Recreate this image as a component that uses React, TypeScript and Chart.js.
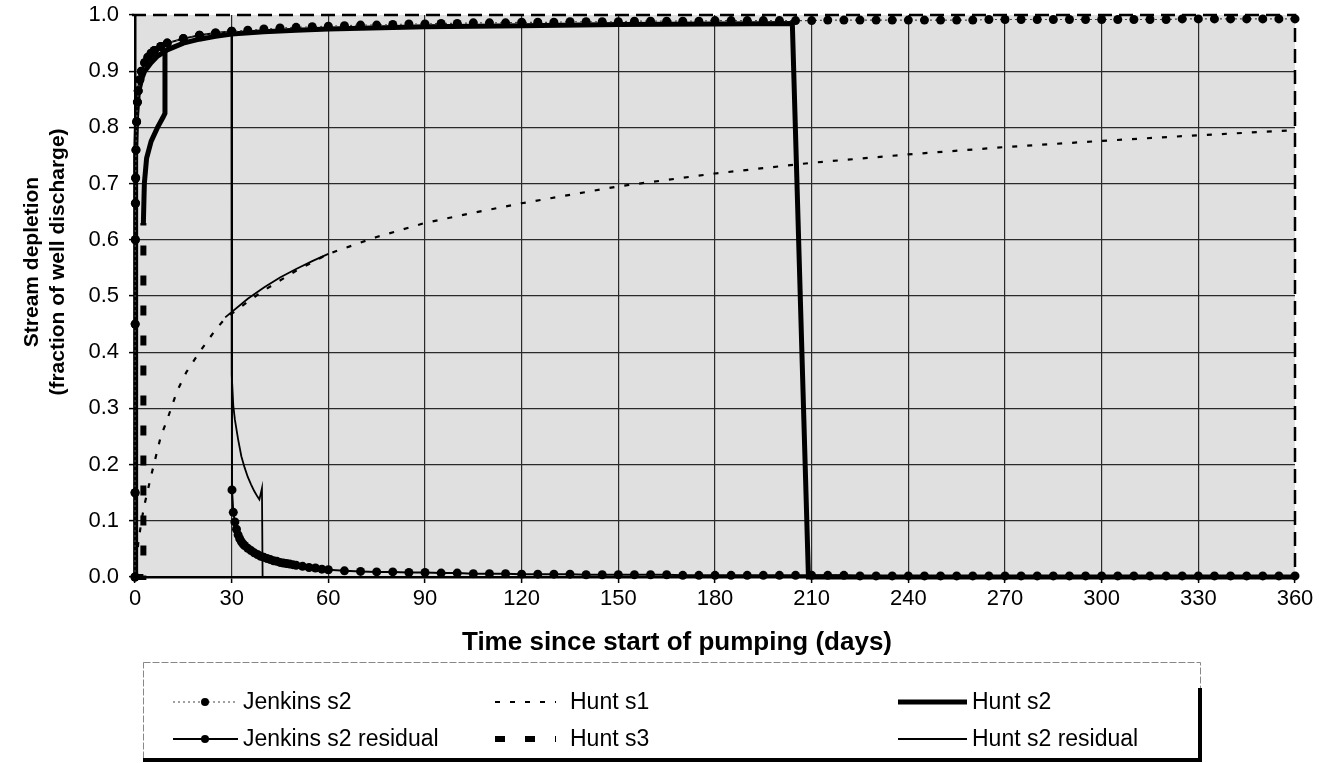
import React, { useEffect, useRef } from "react";
import { Chart, registerables } from "chart.js";

Chart.register(...registerables);

// ---------- axis settings ----------
const X_MIN = 0;
const X_MAX = 360;
const X_STEP = 30;
const Y_MIN = 0;
const Y_MAX = 1;
const Y_STEP = 0.1;

const X_TITLE = "Time since start of pumping (days)";
const Y_TITLE = ["Stream depletion", "(fraction of well discharge)"];

// ---------- series ----------
const SERIES_NAMES = [
  "Jenkins s2",
  "Jenkins s2 residual",
  "Hunt s1",
  "Hunt s3",
  "Hunt s2",
  "Hunt s2 residual",
];

// Jenkins s2 (continuous pumping)
const jenkinsT = [
  0, 0.02, 0.05, 0.1, 0.15, 0.2, 0.3, 0.5, 0.75, 1, 1.5, 2, 3, 4, 5, 6, 8, 10,
  15, 20, 25, 30, 35, 40, 45, 50, 55, 60,
  65, 70, 75, 80, 85, 90, 95, 100, 105, 110,
  115, 120, 125, 130, 135, 140, 145, 150, 155, 160,
  165, 170, 175, 180, 185, 190, 195, 200, 205, 210,
  215, 220, 225, 230, 235, 240, 245, 250, 255, 260,
  265, 270, 275, 280, 285, 290, 295, 300, 305, 310,
  315, 320, 325, 330, 335, 340, 345, 350, 355, 360,
];
const jenkinsS2 = [
  0, 0.15, 0.45, 0.6, 0.665, 0.71, 0.76, 0.81, 0.845, 0.865, 0.885, 0.9, 0.915, 0.925, 0.932, 0.937, 0.944, 0.95,
  0.958, 0.964, 0.968, 0.971, 0.973, 0.975, 0.977, 0.978, 0.979, 0.98,
  0.981, 0.982, 0.982, 0.983, 0.984, 0.984, 0.985, 0.985, 0.986, 0.986,
  0.986, 0.987, 0.987, 0.987, 0.988, 0.988, 0.988, 0.988, 0.989, 0.989,
  0.989, 0.989, 0.989, 0.99, 0.99, 0.99, 0.99, 0.99, 0.99, 0.99,
  0.991, 0.991, 0.991, 0.991, 0.991, 0.991, 0.991, 0.991, 0.991, 0.991,
  0.992, 0.992, 0.992, 0.992, 0.992, 0.992, 0.992, 0.992, 0.992, 0.992,
  0.992, 0.992, 0.993, 0.993, 0.993, 0.993, 0.993, 0.993, 0.993, 0.993,
];

// Jenkins s2 residual (pumping stops at day 30)
const jenkinsResT = [
  0, 0.02, 0.05, 0.1, 0.15, 0.2, 0.3, 0.5, 0.75, 1, 1.5, 2, 3, 4, 5, 6, 8, 10,
  15, 20, 25, 30,
  30.1, 30.5, 31, 31.5, 32, 32.5, 33, 33.5, 34, 35,
  36, 37, 38, 39, 40, 41, 42, 43, 44, 45,
  46, 47, 48, 49, 50, 52, 54, 56, 58, 60,
  65, 70, 75, 80, 85, 90, 95, 100, 105, 110,
  115, 120, 125, 130, 135, 140, 145, 150, 155, 160,
  165, 170, 175, 180, 185, 190, 195, 200, 205, 210,
  215, 220, 225, 230, 235, 240, 245, 250, 255, 260,
  265, 270, 275, 280, 285, 290, 295, 300, 305, 310,
  315, 320, 325, 330, 335, 340, 345, 350, 355, 360,
];
const jenkinsS2Res = [
  0, 0.15, 0.45, 0.6, 0.665, 0.71, 0.76, 0.81, 0.845, 0.865, 0.885, 0.9, 0.915, 0.925, 0.932, 0.937, 0.944, 0.95,
  0.958, 0.964, 0.968, 0.971,
  0.155, 0.115, 0.098, 0.085, 0.075, 0.068, 0.063, 0.059, 0.056, 0.051,
  0.047, 0.043, 0.04, 0.037, 0.035, 0.033, 0.031, 0.029, 0.028, 0.026,
  0.025, 0.024, 0.023, 0.022, 0.021, 0.019, 0.017, 0.016, 0.014, 0.013,
  0.011, 0.01, 0.009, 0.009, 0.008, 0.008, 0.007, 0.007, 0.006, 0.006,
  0.006, 0.005, 0.005, 0.005, 0.005, 0.004, 0.004, 0.004, 0.004, 0.004,
  0.004, 0.003, 0.003, 0.003, 0.003, 0.003, 0.003, 0.003, 0.003, 0.003,
  0.003, 0.003, 0.002, 0.002, 0.002, 0.002, 0.002, 0.002, 0.002, 0.002,
  0.002, 0.002, 0.002, 0.002, 0.002, 0.002, 0.002, 0.002, 0.002, 0.002,
  0.002, 0.002, 0.002, 0.002, 0.002, 0.002, 0.002, 0.002, 0.002, 0.002,
];

// Hunt s1
const huntS1T = [0, 1, 2, 3, 5, 8, 10, 13, 16, 20, 25, 28, 35, 40, 50, 60, 75, 90, 105, 120, 150, 180, 210, 240, 270, 300, 330, 360];
const huntS1 = [0, 0.06, 0.1, 0.13, 0.18, 0.25, 0.28, 0.33, 0.365, 0.4, 0.44, 0.46, 0.49, 0.51, 0.545, 0.575, 0.605, 0.63, 0.648, 0.665, 0.695, 0.718, 0.737, 0.752, 0.765, 0.776, 0.786, 0.795];

// Hunt s3
const huntS3T = [0, 2.6, 2.6, 2.9, 3.6, 5, 7, 8.7, 9.3, 9.3];
const huntS3 = [0, 0, 0.63, 0.7, 0.745, 0.775, 0.8, 0.818, 0.825, 0.94];

// Hunt s2
const huntS2T = [0, 0.1, 0.2, 0.3, 0.5, 1, 2, 3, 5, 7, 10, 15, 20, 25, 30, 40, 50, 60, 90, 120, 150, 180, 204, 209, 240, 270, 300, 330, 360];
const huntS2 = [0, 0.45, 0.65, 0.75, 0.82, 0.86, 0.885, 0.9, 0.915, 0.927, 0.938, 0.95, 0.957, 0.962, 0.966, 0.97, 0.973, 0.975, 0.979, 0.981, 0.983, 0.984, 0.985, 0, 0, 0, 0, 0, 0];

// Hunt s2 residual (null = break in the line)
const huntS2ResT = [
  0, 0.1, 0.2, 0.3, 0.5, 1, 2, 3, 5, 7, 10, 15, 20, 25, 30,
  30.02, 30.5, 31, 32, 33, 34, 35, 36, 37, 38, 38.6, 39.4, 39.6,
  60, 120, 180, 240, 300, 360,
  360,
  28, 35, 40, 45, 50, 55, 60,
];
const huntS2Res = [
  0, 0.45, 0.65, 0.75, 0.82, 0.86, 0.885, 0.9, 0.915, 0.927, 0.938, 0.95, 0.957, 0.962, 0.966,
  0.36, 0.305, 0.28, 0.245, 0.215, 0.195, 0.178, 0.165, 0.153, 0.143, 0.138, 0.158, 0,
  0, 0, 0, 0, 0, 0,
  null,
  0.462, 0.495, 0.515, 0.533, 0.548, 0.562, 0.575,
];

const zip = (t: number[], v: (number | null)[]) => t.map((x, i) => ({ x, y: v[i] }));

const FONT = "'Liberation Sans', Arial, sans-serif";
const PLOT_BG = "#e0e0e0";

// legend placement: [datasetIndex, column, row]
const LEGEND_ORDER: [number, number, number][] = [
  [0, 0, 0],
  [2, 1, 0],
  [4, 2, 0],
  [1, 0, 1],
  [3, 1, 1],
  [5, 2, 1],
];

const decorPlugin = {
  id: "decor",
  beforeDraw(chart: any) {
    const { ctx, chartArea: a } = chart;
    ctx.save();
    ctx.fillStyle = "#ffffff";
    ctx.fillRect(0, 0, chart.width, chart.height);
    ctx.fillStyle = PLOT_BG;
    ctx.fillRect(a.left, a.top, a.right - a.left, a.bottom - a.top);
    ctx.restore();
  },
  beforeDatasetsDraw(chart: any) {
    const { ctx, chartArea: a } = chart;
    ctx.save();
    ctx.strokeStyle = "#000";
    ctx.lineWidth = 2.5;
    ctx.setLineDash([14, 7]);
    ctx.beginPath();
    ctx.moveTo(a.left - 3, a.top);
    ctx.lineTo(a.right, a.top);
    ctx.lineTo(a.right, a.bottom);
    ctx.stroke();
    ctx.restore();
  },
  afterDraw(chart: any) {
    const { ctx } = chart;
    ctx.save();
    // axis titles
    ctx.fillStyle = "#000";
    ctx.textAlign = "center";
    ctx.textBaseline = "middle";
    ctx.font = `bold 26px ${FONT}`;
    ctx.fillText(X_TITLE, 677, 643);
    ctx.font = `bold 21px ${FONT}`;
    ctx.save();
    ctx.translate(32, 262);
    ctx.rotate(-Math.PI / 2);
    ctx.fillText(Y_TITLE[0], 0, 0);
    ctx.fillText(Y_TITLE[1], 0, 26);
    ctx.restore();

    // legend box
    const bx0 = 143, by0 = 662, bx1 = 1200, by1 = 760;
    ctx.strokeStyle = "#888";
    ctx.lineWidth = 1;
    ctx.setLineDash([7, 2]);
    ctx.strokeRect(bx0 + 0.5, by0 + 0.5, bx1 - bx0, by1 - by0);
    ctx.setLineDash([]);
    ctx.strokeStyle = "#000";
    ctx.lineWidth = 4;
    ctx.beginPath();
    ctx.moveTo(bx1, by0 + 26);
    ctx.lineTo(bx1, by1);
    ctx.lineTo(bx0, by1);
    ctx.stroke();

    const colSample = [[173, 238], [495, 556], [898, 967]];
    const colText = [243, 570, 972];
    const rowY = [702, 739];
    ctx.font = `23px ${FONT}`;
    ctx.textAlign = "left";
    ctx.textBaseline = "middle";
    LEGEND_ORDER.forEach(([di, c, r]) => {
      const ds = chart.data.datasets[di];
      const y = rowY[r];
      const [sx0, sx1] = colSample[c];
      ctx.save();
      ctx.strokeStyle = ds.borderColor;
      ctx.lineWidth = ds.borderWidth;
      ctx.setLineDash(ds.borderDash || []);
      ctx.beginPath();
      ctx.moveTo(sx0, y);
      ctx.lineTo(sx1, y);
      ctx.stroke();
      if (ds.pointRadius > 0) {
        ctx.setLineDash([]);
        ctx.fillStyle = ds.pointBackgroundColor;
        ctx.beginPath();
        ctx.arc(205, y, 4, 0, Math.PI * 2);
        ctx.fill();
      }
      ctx.restore();
      ctx.fillStyle = "#000";
      ctx.fillText(ds.label, colText[c], y + 1);
    });
    ctx.restore();
  },
};

export default function App() {
  const canvasRef = useRef<HTMLCanvasElement | null>(null);

  useEffect(() => {
    document.body.style.margin = "0";
    const canvas = canvasRef.current;
    if (!canvas) return;

    const datasets: any[] = [
      {
        label: SERIES_NAMES[0],
        data: zip(jenkinsT, jenkinsS2),
        borderColor: "#444",
        borderWidth: 1.2,
        borderDash: [2, 3],
        pointRadius: 4.5,
        pointBackgroundColor: "#000",
        pointBorderWidth: 0,
      },
      {
        label: SERIES_NAMES[1],
        data: zip(jenkinsResT, jenkinsS2Res),
        borderColor: "#000",
        borderWidth: 2,
        pointRadius: 4.5,
        pointBackgroundColor: "#000",
        pointBorderWidth: 0,
      },
      {
        label: SERIES_NAMES[2],
        data: zip(huntS1T, huntS1),
        borderColor: "#000",
        borderWidth: 2.2,
        borderDash: [5, 10],
        pointRadius: 0,
      },
      {
        label: SERIES_NAMES[3],
        data: zip(huntS3T, huntS3),
        borderColor: "#000",
        borderWidth: 6,
        borderDash: [10, 20],
        pointRadius: 0,
        segment: {
          borderDash: (c: any) => (c.p0DataIndex >= 2 ? [] : [10, 20]),
          borderWidth: (c: any) => (c.p0DataIndex >= 2 ? 5 : 6),
        },
      },
      {
        label: SERIES_NAMES[4],
        data: zip(huntS2T, huntS2),
        borderColor: "#000",
        borderWidth: 5,
        pointRadius: 0,
      },
      {
        label: SERIES_NAMES[5],
        data: zip(huntS2ResT, huntS2Res),
        borderColor: "#000",
        borderWidth: 1.8,
        pointRadius: 0,
      },
    ].map((d) => ({
      ...d,
      showLine: true,
      fill: false,
      tension: 0,
      spanGaps: false,
      clip: false,
      borderCapStyle: "butt",
      borderJoinStyle: "miter",
      pointHoverRadius: 0,
    }));

    const chart = new Chart(canvas, {
      type: "line",
      data: { datasets },
      options: {
        animation: false,
        responsive: true,
        maintainAspectRatio: false,
        devicePixelRatio: 1,
        events: [],
        layout: { padding: { top: 15, right: 24, left: 0, bottom: 146 } },
        plugins: {
          legend: { display: false },
          tooltip: { enabled: false },
          title: { display: false },
        },
        scales: {
          x: {
            type: "linear",
            min: X_MIN,
            max: X_MAX,
            afterFit: (s: any) => {
              s.height = 40;
              s.paddingLeft = 0;
              s.paddingRight = 0;
            },
            ticks: {
              stepSize: X_STEP,
              color: "#000",
              font: { family: FONT, size: 22 },
              padding: 3,
              maxRotation: 0,
              callback: (v: any) => String(v),
            },
            grid: {
              color: (c: any) =>
                c.tick && (c.tick.value === X_MIN || c.tick.value === X_MAX) ? "rgba(0,0,0,0)" : "#2a2a2a",
              lineWidth: 1.2,
              tickLength: 6,
              tickColor: "#000",
              tickWidth: 1.5,
            },
            border: { display: true, color: "#000", width: 2.5 },
          },
          y: {
            type: "linear",
            min: Y_MIN,
            max: Y_MAX,
            afterFit: (s: any) => {
              s.width = 135;
              s.paddingTop = 0;
              s.paddingBottom = 0;
            },
            ticks: {
              stepSize: Y_STEP,
              color: "#000",
              font: { family: FONT, size: 22 },
              padding: 10,
              callback: (v: any) => Number(v).toFixed(1),
            },
            grid: {
              color: (c: any) =>
                c.tick && (c.tick.value <= Y_MIN + 1e-9 || c.tick.value >= Y_MAX - 1e-9) ? "rgba(0,0,0,0)" : "#2a2a2a",
              lineWidth: 1.2,
              tickLength: 6,
              tickColor: "#000",
              tickWidth: 1.5,
            },
            border: { display: true, color: "#000", width: 2.5 },
          },
        },
      },
      plugins: [decorPlugin],
    } as any);

    return () => {
      chart.destroy();
    };
  }, []);

  return (
    <div style={{ position: "relative", width: 1319, height: 763 }}>
      <canvas ref={canvasRef} />
    </div>
  );
}
